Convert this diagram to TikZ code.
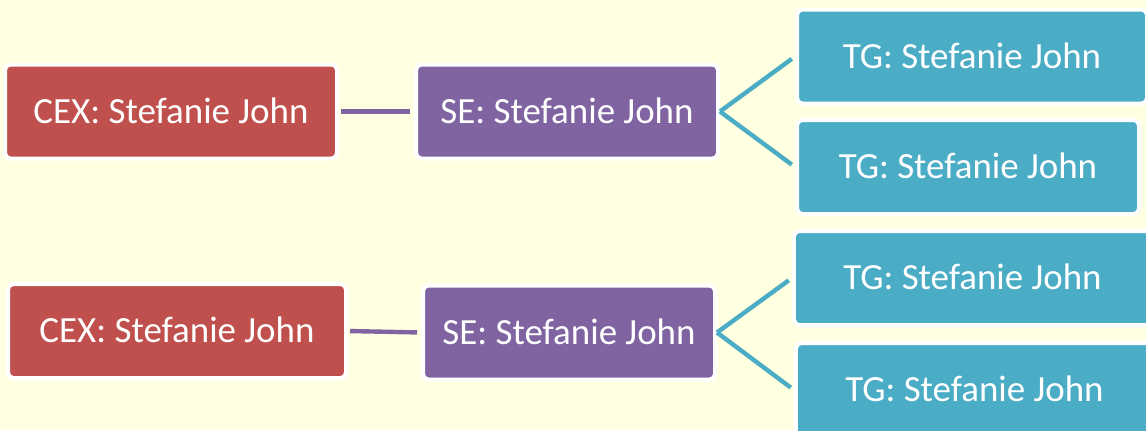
\documentclass[tikz,border=0pt]{standalone}
\usepackage{fontspec}
\newfontfamily\boxfont{Carlito}
\usepackage{xcolor}

\definecolor{cexred}{RGB}{192,80,77}
\definecolor{sepurple}{RGB}{128,100,162}
\definecolor{tgteal}{RGB}{75,172,198}
\definecolor{paper}{RGB}{255,255,225}

\begin{document}
\begin{tikzpicture}[x=0.75pt,y=0.75pt,yscale=-1,xscale=1,
  box/.style={rectangle, rounded corners=4pt, draw=white, line width=3pt, text=white,
    font=\boxfont\fontsize{27.7}{33}\selectfont, minimum height=70.5pt,
    text height=17.25pt, text depth=0pt, inner sep=0pt},
  cexbox/.style={box, fill=cexred},
  sebox/.style={box, fill=sepurple},
  tgbox/.style={box, fill=tgteal},
  selink/.style={draw=sepurple, line width=3.3pt, shorten <=1.5pt, shorten >=3pt},
  tglink/.style={draw=tgteal, line width=3.3pt, shorten >=3pt}]
%set diagram size 1146 x 430
\useasboundingbox (0,0) rectangle (1146,430);
\fill [paper] (0,0) rectangle (1146,430);

% Text Node
\draw (171,111.5) node [cexbox, minimum width=249pt] (cex1) {CEX: Stefanie John};
% Text Node
\draw (567,111.5) node [sebox, minimum width=226.5pt] (se1) {SE: Stefanie John};
% Text Node
\draw (972,56.5) node [tgbox, minimum width=262.5pt] (tg1) {TG: Stefanie John};
% Text Node
\draw (968,167) node [tgbox, minimum width=256.5pt] (tg2) {TG: Stefanie John};

% Text Node
\draw (177,331) node [cexbox, minimum width=253.5pt] (cex2) {CEX: Stefanie John};
% Text Node
\draw (569,332.5) node [sebox, minimum width=219pt] (se2) {SE: Stefanie John};
% Text Node
\draw (972.5,278) node [tgbox, minimum width=267.8pt] (tg3) {TG: Stefanie John};
% Text Node
\draw (974.5,390) node [tgbox, minimum width=267.8pt] (tg4) {TG: Stefanie John};

% Connection
\draw [selink] (cex1.east) -- (se1.west) ;
% Connection
\draw [tglink] (se1.east) -- (tg1.west) ;
% Connection
\draw [tglink] (se1.east) -- (tg2.west) ;
% Connection
\draw [selink] (cex2.east) -- (se2.west) ;
% Connection
\draw [tglink] (se2.east) -- (tg3.west) ;
% Connection
\draw [tglink] (se2.east) -- (tg4.west) ;

\end{tikzpicture}
\end{document}
